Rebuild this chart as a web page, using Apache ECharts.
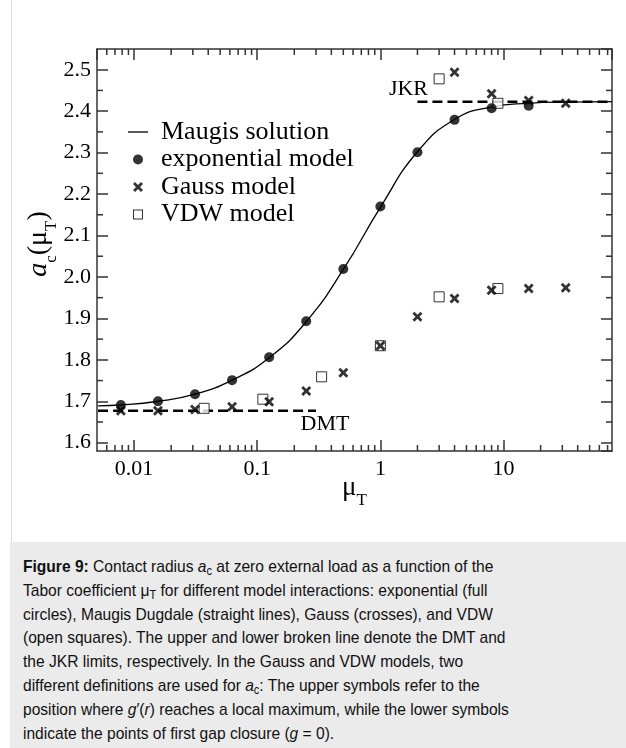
<!DOCTYPE html>
<html>
<head>
<meta charset="utf-8">
<script src="https://cdn.jsdelivr.net/npm/echarts@6/dist/echarts.min.js"></script>
<style>
  html, body { margin: 0; padding: 0; background: #fff; }
  #wrap { position: relative; width: 626px; height: 748px; overflow: hidden; }
  #chart { position: absolute; left: 0; top: 0; width: 626px; height: 542px; }
  #frame { position: absolute; left: 11px; top: 0; width: 1px; height: 542px; background: #d9d9d9; }
  #caption {
    position: absolute; left: 10px; top: 542px; width: 616px; height: 206px;
    background: #ebebeb; color: #111; overflow: hidden;
  }
  #caption .txt {
    position: absolute; left: 13px; top: 13px;
    font-family: "Liberation Sans", Arial, sans-serif; font-size: 17px; line-height: 23.8px;
    white-space: nowrap; transform: scaleX(0.916); transform-origin: left top;
  }
  #caption sub { font-size: 12px; line-height: 0; vertical-align: -3px; }
</style>
</head>
<body>
<div id="wrap">
  <div id="chart"></div>
  <div id="frame"></div>
  <div id="caption"><div class="txt">
    <b>Figure 9:</b> Contact radius <i>a</i><sub>c</sub> at zero external load as a function of the<br>
    Tabor coefficient μ<sub>T</sub> for different model interactions: exponential (full<br>
    circles), Maugis Dugdale (straight lines), Gauss (crosses), and VDW<br>
    (open squares). The upper and lower broken line denote the DMT and<br>
    the JKR limits, respectively. In the Gauss and VDW models, two<br>
    different definitions are used for <i>a</i><sub>c</sub>: The upper symbols refer to the<br>
    position where <i>g</i>′(<i>r</i>) reaches a local maximum, while the lower symbols<br>
    indicate the points of first gap closure (<i>g</i> = 0).
  </div></div>
</div>
<script>
// Tabor coefficient values at which each model was evaluated
const expX   = [0.0078125, 0.015625, 0.03125, 0.0625, 0.125, 0.25, 0.5, 1, 2, 4, 8, 16];
const expY   = [1.691, 1.700, 1.717, 1.751, 1.806, 1.893, 2.019, 2.170, 2.301, 2.379, 2.407, 2.413];

const gaussX      = [0.0078125, 0.015625, 0.03125, 0.0625, 0.125, 0.25, 0.5, 1, 2, 4, 8, 16, 32];
const gaussLowerY = [1.677, 1.677, 1.680, 1.687, 1.699, 1.725, 1.769, 1.834, 1.904, 1.948, 1.968, 1.972, 1.974];
const gaussUpperX = [4, 8, 16, 32];
const gaussUpperY = [2.494, 2.442, 2.426, 2.419];

const vdwX      = [1 / 27, 1 / 9, 1 / 3, 1, 3, 9];
const vdwLowerY = [1.683, 1.705, 1.759, 1.834, 1.952, 1.972];
const vdwUpperX = [3, 9];
const vdwUpperY = [2.478, 2.419];

// Maugis–Dugdale solution
const maugisX = [0.0051, 0.0078125, 0.015625, 0.03125, 0.0625, 0.125, 0.25, 0.5, 1, 2, 4, 8, 16, 32, 76];
const maugisY = [1.689, 1.691, 1.700, 1.717, 1.751, 1.805, 1.892, 2.018, 2.168, 2.302, 2.380, 2.410, 2.419, 2.422, 2.423];

// DMT and JKR limits
const dmtX = [0.0051, 0.3];
const dmtY = [1.677, 1.677];
const jkrX = [2, 76];
const jkrY = [2.423, 2.423];

// axis ranges and tick labels
const X_MIN = 0.005, X_MAX = 76;
const Y_MIN = 1.58, Y_MAX = 2.55;
const xTickValues = [0.01, 0.1, 1, 10];
const xTickLabels = ['0.01', '0.1', '1', '10'];
const yMinorTicks = [1.65, 1.75, 1.85, 1.95, 2.05, 2.15, 2.25, 2.35, 2.45];
const xMinorTicks = [];
for (let e = -3; e <= 1; e++) {
  for (let m = 2; m <= 9; m++) {
    const v = Number((m * Math.pow(10, e)).toPrecision(3));
    if (v > X_MIN && v < X_MAX) xMinorTicks.push(v);
  }
}

const SERIF = '"Liberation Serif", "Times New Roman", serif';
const AXIS = '#333';
const MAJOR = 11, MINOR = 6;
const CROSS = 'path://M0,2 L2,0 L5,3 L8,0 L10,2 L7,5 L10,8 L8,10 L5,7 L2,10 L0,8 L3,5 Z';
const SQUARE_ICON = 'path://M0,0 H10 V10 H0 Z M1,1 V9 H9 V1 Z';
const LINE_ICON = 'path://M0,0 H20 V1.3 H0 Z';

const zip = (xs, ys) => xs.map((x, i) => [x, ys[i]]);

function xTickLabel(v) {
  const e = Math.round(Math.log10(v));
  const i = xTickValues.findIndex(t => Math.round(Math.log10(t)) === e);
  return i >= 0 && Math.abs(Math.log10(v) - e) < 1e-6 ? xTickLabels[i] : '';
}

function tickLine(x1, y1, x2, y2) {
  return { type: 'line', shape: { x1, y1, x2, y2 }, style: { stroke: AXIS, lineWidth: 1.5 } };
}

const limitLabel = (text, position, offset) => ({
  show: true, formatter: text, position, distance: 2, offset,
  fontFamily: SERIF, fontSize: 22, color: '#000'
});

const chart = echarts.init(document.getElementById('chart'), null, { renderer: 'canvas' });

const axisLine = { show: true, onZero: false, lineStyle: { color: AXIS, width: 1.5 } };
const axisTick = { show: true, inside: true, length: MAJOR, lineStyle: { color: AXIS, width: 1.5 } };

chart.setOption({
  animation: false,
  backgroundColor: 'transparent',
  grid: { left: 97, right: 14, top: 49, bottom: 91, containLabel: false },
  xAxis: [
    {
      type: 'log', logBase: 10, min: X_MIN, max: X_MAX, position: 'bottom',
      axisLine, axisTick, splitLine: { show: false },
      axisLabel: {
        formatter: xTickLabel, showMinLabel: false, showMaxLabel: false,
        fontFamily: SERIF, fontSize: 22, color: '#000', margin: 7
      },
      name: '{m|μ}{s|T}', nameLocation: 'middle', nameGap: 16, nameMoveOverlap: false,
      nameTextStyle: {
        rich: {
          m: { fontFamily: SERIF, fontSize: 27, color: '#000', lineHeight: 42 },
          s: { fontFamily: SERIF, fontSize: 17, color: '#000', lineHeight: 17, verticalAlign: 'bottom' }
        }
      }
    },
    {
      type: 'log', logBase: 10, min: X_MIN, max: X_MAX, position: 'top',
      axisLine, axisTick, splitLine: { show: false }, axisLabel: { show: false }
    }
  ],
  yAxis: [
    {
      type: 'value', min: Y_MIN, max: Y_MAX, minInterval: 0.1, maxInterval: 0.1, position: 'left',
      axisLine, axisTick, splitLine: { show: false },
      axisLabel: {
        formatter: v => v.toFixed(1), showMinLabel: false, showMaxLabel: false,
        fontFamily: SERIF, fontSize: 22, color: '#000', margin: 6
      },
      name: '{a|a}{c|c}{p|(μ}{t|T}{p|)}', nameLocation: 'middle', nameGap: 37, nameMoveOverlap: false,
      nameTextStyle: {
        padding: [0, 0, 0, 12],
        rich: {
          a: { fontFamily: SERIF, fontSize: 28, fontStyle: 'italic', color: '#000', lineHeight: 42 },
          p: { fontFamily: SERIF, fontSize: 28, color: '#000', lineHeight: 42 },
          c: { fontFamily: SERIF, fontSize: 17, color: '#000', lineHeight: 17, verticalAlign: 'bottom' },
          t: { fontFamily: SERIF, fontSize: 17, color: '#000', lineHeight: 17, verticalAlign: 'bottom' }
        }
      }
    },
    {
      type: 'value', min: Y_MIN, max: Y_MAX, minInterval: 0.1, maxInterval: 0.1, position: 'right',
      axisLine, axisTick, splitLine: { show: false }, axisLabel: { show: false }
    }
  ],
  legend: {
    data: [
      { name: 'Maugis solution', icon: LINE_ICON },
      { name: 'exponential model', icon: 'circle' },
      { name: 'Gauss model', icon: CROSS },
      { name: 'VDW model', icon: SQUARE_ICON, itemStyle: { color: '#000', borderWidth: 0 } }
    ],
    orient: 'vertical', left: 123, top: 114,
    itemWidth: 20, itemHeight: 10, itemGap: 1.5,
    selectedMode: false,
    textStyle: { fontFamily: SERIF, fontSize: 26, color: '#000', lineHeight: 26, padding: [0, 0, 0, 8] }
  },
  series: [
    {
      name: 'DMT', type: 'line', symbol: 'circle', symbolSize: 0, showSymbol: true, silent: true, z: 1,
      data: zip(dmtX, dmtY).map((d, i) => i === dmtX.length - 1
        ? { value: d, label: limitLabel('DMT', 'bottom', [9, 0]) } : d),
      lineStyle: { color: '#000', width: 2.5, type: [10, 5] }
    },
    {
      name: 'JKR', type: 'line', symbol: 'circle', symbolSize: 0, showSymbol: true, silent: true, z: 1,
      data: zip(jkrX, jkrY).map((d, i) => i === 0
        ? { value: d, label: limitLabel('JKR', 'top', [-9, 1]) } : d),
      lineStyle: { color: '#000', width: 2.5, type: [10, 5] }
    },
    {
      name: 'Maugis solution', type: 'line', data: zip(maugisX, maugisY), symbol: 'none',
      smooth: 0.5, silent: true, z: 2,
      lineStyle: { color: '#000', width: 1.3 }, itemStyle: { color: '#000' }
    },
    {
      name: 'VDW model', type: 'scatter', silent: true, z: 3,
      data: zip(vdwX, vdwLowerY).concat(zip(vdwUpperX, vdwUpperY)),
      symbol: 'rect', symbolSize: 10,
      itemStyle: { color: '#fff', borderColor: '#000', borderWidth: 1 }
    },
    {
      name: 'exponential model', type: 'scatter', silent: true, z: 4,
      data: zip(expX, expY), symbol: 'circle', symbolSize: 10,
      itemStyle: { color: '#000' }
    },
    {
      name: 'Gauss model', type: 'scatter', silent: true, z: 5,
      data: zip(gaussX, gaussLowerY).concat(zip(gaussUpperX, gaussUpperY)),
      symbol: CROSS, symbolSize: 10,
      itemStyle: { color: '#000' }
    },
    {
      // minor ticks of the logarithmic axes (bottom and top)
      name: 'xMinorTicks', type: 'custom', silent: true, z: 6, clip: false,
      data: xMinorTicks.map(v => [v, Y_MIN]),
      encode: { x: 0, y: 1 },
      renderItem: (params, api) => {
        const v = api.value(0);
        const b = api.coord([v, Y_MIN]);
        const t = api.coord([v, Y_MAX]);
        return { type: 'group', children: [
          tickLine(b[0], b[1], b[0], b[1] - MINOR),
          tickLine(t[0], t[1], t[0], t[1] + MINOR)
        ] };
      }
    },
    {
      // minor ticks of the value axes (left and right)
      name: 'yMinorTicks', type: 'custom', silent: true, z: 6, clip: false,
      data: yMinorTicks.map(v => [X_MIN, v]),
      encode: { x: 0, y: 1 },
      renderItem: (params, api) => {
        const v = api.value(1);
        const l = api.coord([X_MIN, v]);
        const r = api.coord([X_MAX, v]);
        return { type: 'group', children: [
          tickLine(l[0], l[1], l[0] + MINOR, l[1]),
          tickLine(r[0], r[1], r[0] - MINOR, r[1])
        ] };
      }
    }
  ]
});
</script>
</body>
</html>
